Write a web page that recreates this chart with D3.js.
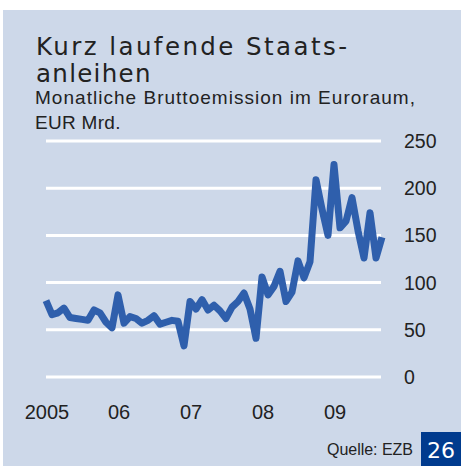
<!DOCTYPE html>
<html>
<head>
<meta charset="utf-8">
<script src="https://cdn.jsdelivr.net/npm/d3@7"></script>
<style>
  html, body { margin: 0; padding: 0; background: #fff; }
  svg { display: block; }
</style>
</head>
<body>
<svg id="chart" width="461" height="466"></svg>
<script>
"use strict";

// Monthly gross issuance, EUR bn, Jan 2005 .. Sep 2009
const startYear = 2005;
const values = [
  81, 66, 68, 73, 63, 62, 61, 60, 71, 68, 58, 52,   // 2005
  87, 57, 64, 62, 57, 60, 65, 56, 58, 60, 59, 33,   // 2006
  80, 72, 82, 71, 76, 70, 62, 74, 80, 89, 72, 41,   // 2007
  106, 87, 96, 112, 80, 90, 123, 105, 122, 209, 178, 150, // 2008
  225, 158, 165, 190, 155, 126, 174, 126, 148       // 2009
];
const yTicks = [0, 50, 100, 150, 200, 250];
const xTickLabels = ['2005', '06', '07', '08', '09'];

const svg = d3.select('#chart');
const sans = "'Liberation Sans', Arial, sans-serif";
const titleFont = "'DejaVu Sans', sans-serif";

// panel
svg.append('rect').attr('x', 3).attr('y', 10).attr('width', 458).attr('height', 456)
  .attr('fill', '#cdd8e9');

const x = d3.scaleLinear().domain([0, 56]).range([46, 382]);
const y = d3.scaleLinear().domain([0, 250]).range([377, 141]);

// gridlines
svg.append('g').selectAll('line').data(yTicks).enter().append('line')
  .attr('x1', 46).attr('x2', 381)
  .attr('y1', d => y(d)).attr('y2', d => y(d))
  .attr('stroke', '#ffffff').attr('stroke-width', 3);

// y labels on the right
svg.append('g').selectAll('text').data(yTicks).enter().append('text')
  .attr('x', 404).attr('y', d => y(d)).attr('dy', '0.36em')
  .attr('font-family', sans).attr('font-size', '19.5px').attr('fill', '#222')
  .text(d => d);

// x labels
svg.append('g').selectAll('text').data(xTickLabels).enter().append('text')
  .attr('x', (d, i) => x(i * 12) + 1).attr('y', 419)
  .attr('text-anchor', 'middle')
  .attr('font-family', sans).attr('font-size', '20px').attr('fill', '#222')
  .text(d => d);

// line
const line = d3.line().x((d, i) => x(i)).y(d => y(d)).curve(d3.curveLinear);
svg.append('path').datum(values)
  .attr('d', line)
  .attr('fill', 'none')
  .attr('stroke', '#2f5fac')
  .attr('stroke-width', 7)
  .attr('stroke-linejoin', 'round')
  .attr('stroke-linecap', 'butt');

// titles
svg.append('text').attr('x', 36).attr('y', 55)
  .attr('font-family', titleFont).attr('font-size', '24.5px')
  .attr('fill', '#222')
  .attr('textLength', 311).attr('lengthAdjust', 'spacing')
  .text('Kurz laufende Staats-');
svg.append('text').attr('x', 36).attr('y', 82)
  .attr('font-family', titleFont).attr('font-size', '24.5px')
  .attr('letter-spacing', '1.3px').attr('fill', '#222')
  .text('anleihen');
svg.append('text').attr('x', 35).attr('y', 104)
  .attr('font-family', sans).attr('font-size', '19px')
  .attr('fill', '#222')
  .attr('textLength', 380).attr('lengthAdjust', 'spacing')
  .text('Monatliche Bruttoemission im Euroraum,');
svg.append('text').attr('x', 35).attr('y', 129)
  .attr('font-family', sans).attr('font-size', '19px')
  .attr('letter-spacing', '0.3px').attr('fill', '#222')
  .text('EUR Mrd.');

// source and page number
svg.append('text').attr('x', 327).attr('y', 455)
  .attr('font-family', sans).attr('font-size', '16px')
  .attr('fill', '#222')
  .attr('textLength', 86).attr('lengthAdjust', 'spacing')
  .text('Quelle: EZB');
svg.append('rect').attr('x', 421).attr('y', 432).attr('width', 40).attr('height', 34)
  .attr('fill', '#003b8e');
svg.append('text').attr('x', 441).attr('y', 458).attr('text-anchor', 'middle')
  .attr('font-family', titleFont).attr('font-size', '22px')
  .attr('fill', '#ffffff')
  .text('26');
</script>
</body>
</html>
